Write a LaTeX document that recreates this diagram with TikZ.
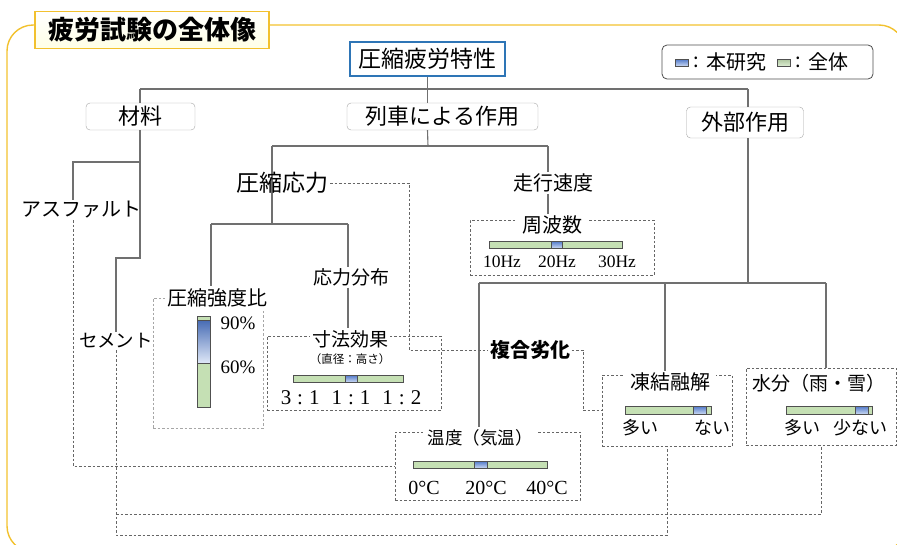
\documentclass[tikz,border=0pt]{standalone}
\usepackage{fontspec}
\setmainfont{Noto Sans CJK JP}
\newfontfamily\tm{Liberation Serif}
\newcommand{\fsz}[1]{\fontsize{#1}{#1}\selectfont}
\definecolor{gold}{HTML}{F2C12E}
\definecolor{bluebd}{HTML}{2E75B6}
\definecolor{connc}{HTML}{707070}
\definecolor{grn}{HTML}{C5E0B4}
\definecolor{blueA}{HTML}{4F77C8}
\definecolor{blueB}{HTML}{C9D8F2}
\definecolor{barbd}{HTML}{505050}
\tikzset{
  conn/.style={draw=connc, line width=1.1pt},
  dline/.style={draw=black!60, line width=0.8pt, dash pattern=on 2.5pt off 2pt},
  dlight/.style={draw=black!35, line width=0.8pt, dash pattern=on 2.5pt off 2pt},
  txt/.style={inner sep=1.5pt},
  lblw/.style={inner sep=2pt, fill=white},
  catbox/.style={draw=black!35, rounded corners=4pt, fill=white, inner sep=0pt, font=\fsz{22}},
  dbox/.style={dline, inner sep=0pt},
  serif/.style={inner sep=1pt, font=\tm\fsz{20}},
  barline/.style={draw=barbd, line width=0.7pt},
}
\newcommand{\barH}[6]{%
  \fill[grn] (#1,#3) rectangle (#2,#4);
  \shade[top color=blueA, bottom color=blueB] (#5,#3) rectangle (#6,#4);
  \draw[barline] (#1,#3) rectangle (#2,#4);
  \draw[barline] (#5,#3) -- (#5,#4) (#6,#3) -- (#6,#4);}
\begin{document}
\begin{tikzpicture}[x=1pt,y=-1pt]
\useasboundingbox (0,0) rectangle (897,544);
\clip (0,0) rectangle (897,544);
% outer frame
\draw[gold, line width=1.4pt, rounded corners=26pt] (7,25) rectangle (905,552);
\node[draw=gold, line width=1.4pt, top color=white, bottom color=yellow!10, minimum width=234pt, minimum height=37pt, inner sep=0pt, font=\fsz{26}\bfseries] (title) at (152,30) {疲労試験の全体像};

% root
\node[draw=bluebd, line width=1.2pt, fill=white, minimum width=155pt, minimum height=34pt, inner sep=0pt, font=\fsz{23}] (top) at (427.5,59) {圧縮疲労特性};

% legend
\node[draw=black!70, line width=0.8pt, rounded corners=5pt, minimum width=211pt, minimum height=34pt, inner sep=0pt] (leg) at (767.5,62) {};
\shade[top color=blueA, bottom color=blueB, draw=barbd, line width=0.6pt] (675,59) rectangle (688,66);
\node[txt, font=\fsz{20}] (legc1) at (696,62) {:};
\node[txt, anchor=west, font=\fsz{20}] (legt1) at (705,62) {本研究};
\shade[top color=grn!80!black!60!grn, bottom color=grn!60, draw=barbd, line width=0.6pt] (777,59) rectangle (790,66);
\node[txt, font=\fsz{20}] (legc2) at (798,62) {:};
\node[txt, anchor=west, font=\fsz{20}] (legt2) at (807,62) {全体};

% category boxes
\node[catbox, minimum width=109pt, minimum height=27pt] (zairyo) at (140.5,116.5) {材料};
\node[catbox, minimum width=191pt, minimum height=27pt] (ressha) at (442.5,116.5) {列車による作用};
\node[catbox, minimum width=117pt, minimum height=31pt] (gaibu) at (745,122.5) {外部作用};

% trunk
\coordinate (jL) at (140,89);
\coordinate (jR) at (748,89);
\draw[conn] (top.south) -- (top.south |- jL);
\draw[conn] (jL) -- (jR);
\draw[conn] (jL) -- (jL |- zairyo.north);
\draw[conn] (top.south |- jL) -- (top.south |- ressha.north);
\draw[conn] (jR) -- (jR |- gaibu.north);

% material branch
\coordinate (m1) at (140,162);
\coordinate (m2) at (140,258);
\coordinate (a1) at (73,162);
\coordinate (c1) at (116,258);
\node[txt, font=\fsz{20}] (asph) at (81,210) {アスファルト};
\node[txt, font=\fsz{18.5}] (cement) at (116,341) {セメント};
\draw[conn] (jL |- zairyo.south) -- (m2) -- (c1) -- (c1 |- cement.north);
\draw[conn] (m1) -- (a1) -- (a1 |- asph.north);

% train branch
\coordinate (s0) at (428,146);
\coordinate (sL) at (272,146);
\coordinate (sR) at (548,146);
\coordinate (s2) at (272,224);
\coordinate (s2L) at (211,224);
\coordinate (s2R) at (348,224);
\draw[conn] (top.south |- ressha.south) -- (s0);
\draw[conn] (sL) -- (sR);
\draw[conn] (sL) -- (s2);
\draw[conn] (s2L) -- (s2R);
\node[txt, font=\fsz{23}] (assyuku) at (282.5,183) {圧縮応力};
\node[txt, font=\fsz{19}] (oryoku) at (351,277) {応力分布};
\draw[conn] (s2R) -- (s2R |- oryoku.north);

% compressive strength ratio
\node[dlight, inner sep=0pt, minimum width=110pt, minimum height=130pt] (kyodo) at (208,363) {};
\node[lblw, font=\fsz{20}] (kyodoL) at (217,298) {圧縮強度比};
\draw[conn] (s2L) -- (s2L |- kyodoL.north);
\fill[grn] (197,316) rectangle (210,407);
\shade[top color=blueA!90!black, bottom color=blueB!60] (197,320) rectangle (210,363);
\draw[barline] (197,316) rectangle (210,407);
\draw[barline] (197,320) -- (210,320) (197,363) -- (210,363);
\node[serif, font=\tm\fsz{19}] (p90) at (238,323) {90\%};
\node[serif, font=\tm\fsz{19}] (p60) at (238,367) {60\%};

% size effect
\node[dbox, minimum width=174pt, minimum height=74pt] (sunbox) at (354,373) {};
\node[lblw, font=\fsz{19}] (sunL) at (350,339) {寸法効果};
\node[txt, font=\fsz{11.5}] (sunS) at (350,359) {（直径：高さ）};
\draw[conn] (s2R |- oryoku.south) -- (s2R |- sunL.north);
\barH{293}{403}{375}{382}{345}{357}
\node[serif, font=\tm\fsz{21}] (ratio) at (351,398) {3\hspace{6pt}:\hspace{6pt}1\hspace{12pt}1\hspace{6pt}:\hspace{6pt}1\hspace{12pt}1\hspace{6pt}:\hspace{6pt}2};

% speed / frequency
\node[txt, font=\fsz{20}] (sokudo) at (553,183) {走行速度};
\draw[conn] (sR) -- (sR |- sokudo.north);
\node[dbox, minimum width=184pt, minimum height=55pt] (shubox) at (562,247.5) {};
\node[lblw, inner xsep=6pt, font=\fsz{20}] (shuL) at (552,225) {周波数};
\draw[conn] (sR |- sokudo.south) -- (sR |- shuL.north);
\barH{489}{622}{241}{248}{551}{562}
\node[serif, font=\tm\fsz{17.5}] (hz10) at (502,262) {10Hz};
\node[serif, font=\tm\fsz{17.5}] (hz20) at (557,262) {20Hz};
\node[serif, font=\tm\fsz{17.5}] (hz30) at (617,262) {30Hz};

% external branch
\coordinate (e1) at (748,283);
\coordinate (eL) at (479,283);
\coordinate (eM) at (665,283);
\coordinate (eR) at (826,283);
\draw[conn] (jR |- gaibu.south) -- (e1);
\draw[conn] (eL) -- (eR);

% temperature
\node[dbox, minimum width=185pt, minimum height=68pt] (temp) at (487.5,466) {};
\node[lblw, inner xsep=5pt, font=\fsz{17.5}] (tempL) at (480,438) {温度（気温）};
\draw[conn] (eL) -- (eL |- tempL.north);
\barH{413}{547}{461}{468}{474}{487}
\node[serif] (t0) at (424,488) {0°C};
\node[serif] (t20) at (486,488) {20°C};
\node[serif] (t40) at (547,488) {40°C};

% freeze-thaw
\node[dbox, minimum width=130pt, minimum height=71pt] (tbox) at (667,410.5) {};
\node[lblw, inner xsep=6pt, font=\fsz{20}] (tL) at (670,382) {凍結融解};
\draw[conn] (eM) -- (eM |- tL.north);
\barH{625}{711}{406}{414}{693}{706}
\node[txt, font=\fsz{18}] (tA) at (640,428) {多い};
\node[txt, font=\fsz{18}] (tB) at (712,428) {ない};

% water
\node[dbox, minimum width=150pt, minimum height=77pt] (wbox) at (821,406.5) {};
\node[txt, font=\fsz{19}] (wL) at (819,383) {水分（雨・雪）};
\draw[conn] (eR) -- (eR |- wbox.north);
\barH{786}{872}{406}{414}{855}{868}
\node[txt, font=\fsz{18}] (wA) at (802,428) {多い};
\node[txt, font=\fsz{18}] (wB) at (860,428) {少ない};

% combined deterioration
\node[txt, font=\fsz{20}\bfseries] (fukugo) at (530,350) {複合劣化};
\coordinate (d1) at (409,350);
\coordinate (d2) at (583,410.5);
\draw[dline] (assyuku.east) -| (d1) -- (fukugo.west);
\draw[dline] (fukugo.east) -| (d2) -- (tbox.west);

% dashed links at bottom
\coordinate (b1) at (821,514);
\coordinate (b2) at (667,535);
\draw[dline] (a1 |- asph.south) |- (temp.west);
\draw[dline] (cement.south) |- (b2) -- (tbox.south);
\draw[dline] (cement.south |- b1) -- (b1) -- (wbox.south);
\end{tikzpicture}
\end{document}
